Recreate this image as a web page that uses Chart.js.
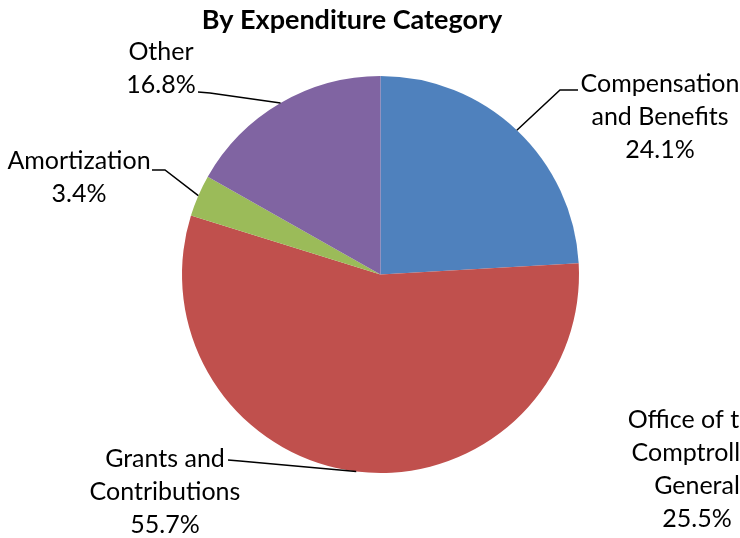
<!DOCTYPE html>
<html>
<head>
<meta charset="utf-8">
<script src="https://cdn.jsdelivr.net/npm/chart.js@4"></script>
<style>
  html, body { margin: 0; padding: 0; background: #fff; }
  #wrap { width: 740px; height: 538px; position: relative; }
</style>
</head>
<body>
<div id="wrap"><canvas id="pie"></canvas></div>
<script>
// ── DATA ──────────────────────────────────────────────────────────
const categories = ['Compensation and Benefits', 'Grants and Contributions', 'Amortization', 'Other'];
const shares     = [24.1, 55.7, 3.4, 16.8];
const colours    = ['#4F81BD', '#C0504D', '#9BBB59', '#8064A2'];

// label lines per slice (text only, split as in the picture)
const labelLines = [
  ['Compensation', 'and Benefits'],
  ['Grants and', 'Contributions'],
  ['Amortization'],
  ['Other'],
];

// stray label left over at bottom right
const strayLines = ['Office of the', 'Comptroller', 'General', '25.5%'];

// ── LAYOUT (label placement, leader elbows) ───────────────────────
const labelPos = [
  { x: 660, y: 84, elbow: [560, 90], end: [578, 90] },
  { x: 165, y: 459, elbow: [240, 461], end: [228, 460] },
  { x: 79,  y: 161, elbow: [165, 170], end: [152, 170] },
  { x: 161, y: 52,  elbow: [210, 93],  end: [198, 92] },
];
const LINE_H = 33;
const FONT = '"Lato", "Liberation Sans", sans-serif';

const labelPlugin = {
  id: 'pieLabels',
  afterDraw(chart) {
    const ctx = chart.ctx;
    const arcs = chart.getDatasetMeta(0).data;
    ctx.save();

    // title
    ctx.fillStyle = '#000';
    ctx.textAlign = 'center';
    ctx.textBaseline = 'middle';
    ctx.font = `bold 27px ${FONT}`;
    ctx.fillText('By Expenditure Category', 352, 20);

    ctx.font = `25px ${FONT}`;
    arcs.forEach((arc, i) => {
      const p = labelPos[i];
      const mid = (arc.startAngle + arc.endAngle) / 2;
      const ax = arc.x + Math.cos(mid) * arc.outerRadius;
      const ay = arc.y + Math.sin(mid) * arc.outerRadius;

      ctx.strokeStyle = '#000';
      ctx.lineWidth = 1.5;
      ctx.beginPath();
      ctx.moveTo(ax, ay);
      ctx.lineTo(p.elbow[0], p.elbow[1]);
      ctx.lineTo(p.end[0], p.end[1]);
      ctx.stroke();

      const lines = labelLines[i].concat([shares[i].toFixed(1) + '%']);
      lines.forEach((t, k) => ctx.fillText(t, p.x, p.y + k * LINE_H));
    });

    strayLines.forEach((t, k) => ctx.fillText(t, 697, 420 + k * LINE_H));
    ctx.restore();
  }
};

new Chart(document.getElementById('pie'), {
  type: 'pie',
  data: {
    labels: categories,
    datasets: [{
      data: shares,
      backgroundColor: colours,
      borderWidth: 0,
    }],
  },
  options: {
    responsive: true,
    maintainAspectRatio: false,
    animation: false,
    layout: { padding: { top: 76, bottom: 65, left: 182, right: 161 } },
    plugins: {
      legend: { display: false },
      title: { display: false },
      tooltip: { enabled: false },
    },
  },
  plugins: [labelPlugin],
});
</script>
</body>
</html>
